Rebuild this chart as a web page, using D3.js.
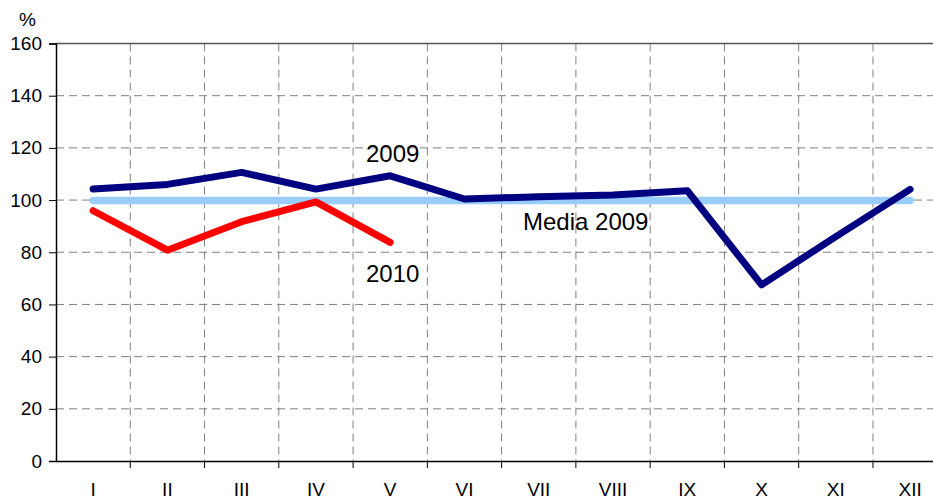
<!DOCTYPE html>
<html>
<head>
<meta charset="utf-8">
<script src="https://cdn.jsdelivr.net/npm/d3@7/dist/d3.min.js"></script>
<style>
  body { margin: 0; background: #fff; }
  text { font-family: Arial, "Liberation Sans", sans-serif; }
</style>
</head>
<body>
<div id="chart"></div>
<script>

var months = ["I", "II", "III", "IV", "V", "VI", "VII", "VIII", "IX", "X", "XI", "XII"]
var values2009 = [104.2, 106, 110.6, 104.2, 109.3, 100.4, 101.3, 101.9, 103.6, 67.5, 86, 104.1]
var values2010 = [95.9, 80.8, 91.7, 99.3, 83.8]
var media2009 = 99.8
var yTicks = [0, 20, 40, 60, 80, 100, 120, 140, 160]

var width = 933,
    height = 496,
    left = 56,
    plotTop = 43.5,
    plotBottom = 461,
    plotRight = left + 12 * 74.27

var svg = d3.select("#chart")
  .append("svg")
    .attr("width", width)
    .attr("height", height)

var x = d3.scaleBand()
  .domain(months)
  .range([left, plotRight])

var y = d3.scaleLinear()
  .domain([0, 160])
  .range([plotBottom, plotTop])

var cx = function(d) { return x(d) + x.bandwidth() / 2 }

// horizontal grid
svg.append("g")
  .selectAll("line")
  .data(yTicks.filter(function(d) { return d > 0 && d < 160 }))
  .enter().append("line")
    .attr("x1", left).attr("x2", plotRight)
    .attr("y1", function(d) { return y(d) }).attr("y2", function(d) { return y(d) })
    .attr("stroke", "#808080")
    .attr("stroke-dasharray", "8,5")

// vertical grid
svg.append("g")
  .selectAll("line")
  .data(months.slice(1))
  .enter().append("line")
    .attr("x1", function(d) { return x(d) }).attr("x2", function(d) { return x(d) })
    .attr("y1", plotTop).attr("y2", plotBottom)
    .attr("stroke", "#808080")
    .attr("stroke-dasharray", "8,5")

// top line
svg.append("line")
  .attr("x1", left).attr("x2", plotRight)
  .attr("y1", y(160)).attr("y2", y(160))
  .attr("stroke", "#555")
  .attr("stroke-width", 1.5)

// y axis
var yAxis = svg.append("g")
  .attr("transform", "translate(" + left + ",0)")
  .call(d3.axisLeft(y).tickValues(yTicks).tickSize(7).tickPadding(7))
yAxis.select(".domain").attr("stroke", "#000").attr("stroke-width", 1.5)
yAxis.selectAll(".tick line").attr("stroke", "#000")
yAxis.selectAll("text").attr("font-size", "19px").attr("fill", "#000")
  .attr("font-family", "Arial, 'Liberation Sans', sans-serif")

// x axis
var xAxis = svg.append("g")
  .attr("transform", "translate(0," + plotBottom + ")")
  .call(d3.axisBottom(x).tickSize(0).tickPadding(22))
xAxis.select(".domain").attr("stroke", "#000").attr("stroke-width", 1.5)
xAxis.selectAll("text").attr("font-size", "19px").attr("fill", "#000")
  .attr("font-family", "Arial, 'Liberation Sans', sans-serif")

xAxis.selectAll(".sep")
  .data(months.slice(1))
  .enter().append("line")
    .attr("x1", function(d) { return x(d) }).attr("x2", function(d) { return x(d) })
    .attr("y1", 0).attr("y2", 7)
    .attr("stroke", "#000")

// lines
var line = d3.line()
  .x(function(d, i) { return cx(months[i]) })
  .y(function(d) { return y(d) })

svg.append("path")
  .datum(months.map(function() { return media2009 }))
  .attr("d", line)
  .attr("fill", "none")
  .attr("stroke", "#99CCFF")
  .attr("stroke-width", 7.5)
  .attr("stroke-linecap", "round")

svg.append("path")
  .datum(values2009)
  .attr("d", line)
  .attr("fill", "none")
  .attr("stroke", "#000080")
  .attr("stroke-width", 7)
  .attr("stroke-linecap", "round")
  .attr("stroke-linejoin", "round")

svg.append("path")
  .datum(values2010)
  .attr("d", line)
  .attr("fill", "none")
  .attr("stroke", "#FF0000")
  .attr("stroke-width", 7)
  .attr("stroke-linecap", "round")
  .attr("stroke-linejoin", "round")

// labels
svg.append("text").attr("x", 19).attr("y", 26).attr("font-size", "19px").text("%")
svg.append("text").attr("x", 366).attr("y", 162).attr("font-size", "24px").text("2009")
svg.append("text").attr("x", 366).attr("y", 282).attr("font-size", "24px").text("2010")
svg.append("text").attr("x", 523).attr("y", 230).attr("font-size", "24px").text("Media 2009")

</script>
</body>
</html>
